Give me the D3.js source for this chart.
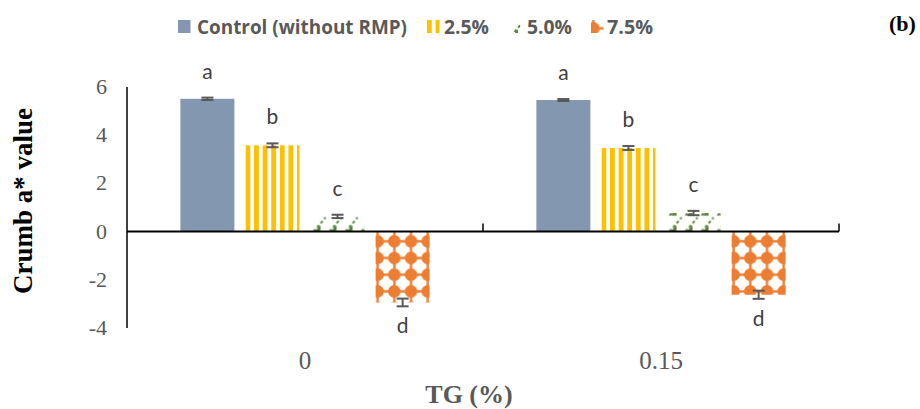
<!DOCTYPE html>
<html><head><meta charset="utf-8">
<script src="https://cdn.jsdelivr.net/npm/d3@7"></script>
<style>html,body{margin:0;padding:0;background:#fff;overflow:hidden}svg{display:block}</style>
</head><body>
<script>
const categories = ["0", "0.15"];
const seriesNames = ["Control (without RMP)", "2.5%", "5.0%", "7.5%"];
const control = [5.51, 5.46];
const rmp25 = [3.58, 3.47];
const rmp50 = [0.63, 0.77];
const rmp75 = [-2.94, -2.62];
const errControl = [0.05, 0.04];
const err25 = [0.08, 0.08];
const err50 = [0.07, 0.09];
const err75 = [0.16, 0.17];
const letters = [["a","b","c","d"],["a","b","c","d"]];
const yTicks = [-4, -2, 0, 2, 4, 6];
const colors = ["#8497B0", "#FFC000", "#548235", "#ED7D31"];

const W = 920, H = 409;
const svg = d3.select("body").append("svg").attr("width", W).attr("height", H);
const defs = svg.append("defs");
const serif = "'Liberation Serif', 'Times New Roman', serif";

const x0 = d3.scaleBand().domain(categories).range([127, 839]).paddingInner(0).paddingOuter(0);
const x1 = d3.scaleBand().domain(seriesNames).range([0, x0.bandwidth()]).paddingInner(0.17).paddingOuter(0.82);
const y = d3.scaleLinear().domain([-4, 6]).range([328, 87]);

const values = [control, rmp25, rmp50, rmp75];
const errs = [errControl, err25, err50, err75];
const data = [];
categories.forEach((c, ci) => {
  seriesNames.forEach((s, si) => {
    data.push({cat: c, ci, s, si, v: values[si][ci], e: errs[si][ci], L: letters[ci][si]});
  });
});

function makePattern(id, si, ox, oy) {
  if (si === 1) {
    const p = defs.append("pattern").attr("id", id).attr("patternUnits", "userSpaceOnUse")
      .attr("x", ox).attr("y", oy).attr("width", 8.6).attr("height", 10);
    p.append("rect").attr("width", 8.6).attr("height", 10).attr("fill", "#fff");
    p.append("rect").attr("width", 4.8).attr("height", 10).attr("fill", colors[1]);
  } else if (si === 2) {
    const p = defs.append("pattern").attr("id", id).attr("patternUnits", "userSpaceOnUse")
      .attr("x", ox).attr("y", oy).attr("width", 16).attr("height", 16);
    p.append("rect").attr("width", 16).attr("height", 16).attr("fill", "#fff");
    p.append("line").attr("x1", 3).attr("y1", 16).attr("x2", 15).attr("y2", 2)
      .attr("stroke", colors[2]).attr("stroke-width", 2).attr("stroke-dasharray", "3,2.5");
    p.append("path").attr("d", "M4,16 L10,9.5 L10,16 Z").attr("fill", colors[2]);
  } else if (si === 3) {
    const s = 16.7;
    const p = defs.append("pattern").attr("id", id).attr("patternUnits", "userSpaceOnUse")
      .attr("x", ox).attr("y", oy).attr("width", s).attr("height", s);
    p.append("rect").attr("width", s).attr("height", s).attr("fill", "#fff");
    p.append("line").attr("x1", 0).attr("x2", s).attr("y1", s/2).attr("y2", s/2).attr("stroke", colors[3]).attr("stroke-width", 2.4);
    p.append("line").attr("y1", 0).attr("y2", s).attr("x1", s/2).attr("x2", s/2).attr("stroke", colors[3]).attr("stroke-width", 2.4);
    p.append("circle").attr("cx", s/2).attr("cy", s/2).attr("r", 6.3).attr("fill", colors[3]);
  }
}

function fillFor(d, idx) {
  if (d.si === 0) return colors[0];
  const id = "pat" + idx;
  const bx = x0(d.cat) + x1(d.s);
  if (d.si === 3) makePattern(id, 3, bx + 2 - 16.7/2, y(0) + 9.7 - 16.7/2);
  else if (d.si === 2) makePattern(id, 2, bx, y(0) - 16);
  else makePattern(id, 1, bx, 0);
  return "url(#" + id + ")";
}

// bars
svg.append("g").selectAll("rect").data(data).join("rect")
  .attr("x", d => x0(d.cat) + x1(d.s))
  .attr("width", x1.bandwidth())
  .attr("y", d => y(Math.max(0, d.v)))
  .attr("height", d => Math.abs(y(d.v) - y(0)))
  .attr("fill", (d, i) => fillFor(d, i));

// zero line, category ticks, y axis line
svg.append("line").attr("x1", x0.range()[0]).attr("x2", x0.range()[1]).attr("y1", y(0)).attr("y2", y(0))
  .attr("stroke", "#000").attr("stroke-width", 2);
categories.forEach(c => {
  const xx = x0(c) + x0.bandwidth();
  svg.append("line").attr("x1", xx).attr("x2", xx).attr("y1", y(0)).attr("y2", y(0) - 8)
    .attr("stroke", "#000").attr("stroke-width", 1.5);
});
svg.append("line").attr("x1", 127).attr("x2", 127).attr("y1", y(6)).attr("y2", y(-4))
  .attr("stroke", "#000").attr("stroke-width", 1.5);

// y tick labels
svg.append("g").selectAll("text").data(yTicks).join("text")
  .attr("x", 107).attr("y", d => y(d) + 7)
  .attr("text-anchor", "end")
  .attr("font-family", serif).attr("font-size", 22).attr("fill", "#595959")
  .text(d => d < 0 ? "-" + Math.abs(d) : String(d));

// x labels
svg.append("g").selectAll("text").data(categories).join("text")
  .attr("x", d => x0(d) + x0.bandwidth() / 2).attr("y", 369)
  .attr("text-anchor", "middle")
  .attr("font-family", serif).attr("font-size", 25).attr("fill", "#595959")
  .text(d => d);

// error bars
const eb = svg.append("g").attr("stroke", "#595959").attr("stroke-width", 2);
data.forEach(d => {
  const cx = x0(d.cat) + x1(d.s) + x1.bandwidth() / 2;
  const hw = 6;
  eb.append("line").attr("x1", cx).attr("x2", cx).attr("y1", y(d.v + d.e)).attr("y2", y(d.v - d.e));
  eb.append("line").attr("x1", cx - hw).attr("x2", cx + hw).attr("y1", y(d.v + d.e)).attr("y2", y(d.v + d.e));
  eb.append("line").attr("x1", cx - hw).attr("x2", cx + hw).attr("y1", y(d.v - d.e)).attr("y2", y(d.v - d.e));
});

// letters
svg.append("g").selectAll("text").data(data).join("text")
  .attr("x", d => x0(d.cat) + x1(d.s) + x1.bandwidth() / 2)
  .attr("y", d => d.v >= 0 ? y(d.v + d.e) - 19 : y(d.v - d.e) + 27)
  .attr("text-anchor", "middle")
  .attr("font-family", "Lato, 'Open Sans', sans-serif").attr("font-size", 21).attr("fill", "#404040")
  .text(d => d.L);

// axis titles
svg.append("text").attr("transform", "translate(32,201) rotate(-90)").attr("text-anchor", "middle")
  .attr("font-family", serif).attr("font-weight", "bold")
  .attr("font-size", 27).attr("fill", "#000").text("Crumb a* value");
svg.append("text").attr("x", 469).attr("y", 403).attr("text-anchor", "middle")
  .attr("font-family", serif).attr("font-weight", "bold")
  .attr("font-size", 26).attr("fill", "#595959").text("TG (%)");
svg.append("text").attr("x", 889).attr("y", 31)
  .attr("font-family", serif).attr("font-weight", "bold")
  .attr("font-size", 22).attr("fill", "#000").text("(b)");

// legend
const legX = [178, 427, 508, 591];
const legTX = [197, 444, 527, 607];
const legW = [210, 45, 45, 46];
seriesNames.forEach((s, si) => {
  let f = colors[0];
  if (si > 0) {
    const id = "leg" + si;
    if (si === 3) makePattern(id, 3, legX[si] - 6, 20);
    else makePattern(id, si, legX[si], 20);
    f = "url(#" + id + ")";
  }
  svg.append("rect").attr("x", legX[si]).attr("y", 20).attr("width", 12.5).attr("height", 13).attr("fill", f);
  svg.append("text").attr("x", legTX[si]).attr("y", 34)
    .attr("font-family", "'Open Sans', sans-serif").attr("font-weight", "bold")
    .attr("font-size", 19).attr("fill", "#595959")
    .attr("textLength", legW[si]).attr("lengthAdjust", "spacingAndGlyphs")
    .text(s);
});
</script>
</body></html>
